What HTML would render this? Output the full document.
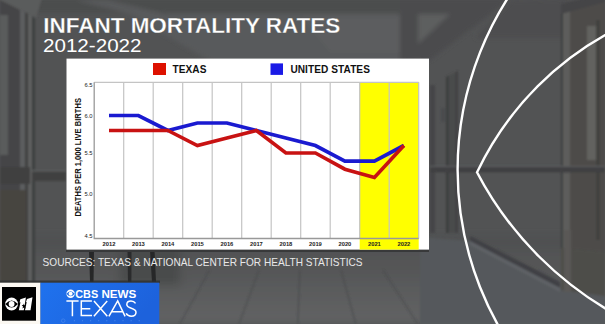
<!DOCTYPE html>
<html><head><meta charset="utf-8">
<style>
html,body{margin:0;padding:0;}
body{width:605px;height:324px;overflow:hidden;position:relative;background:#505254;font-family:"Liberation Sans",sans-serif;}
.abs{position:absolute;}
#bg{position:absolute;left:0;top:0;width:605px;height:324px;overflow:hidden;}
</style></head>
<body>
<div id="bg">
 <svg width="605" height="324" style="position:absolute;left:0;top:0">
  <defs>
   <filter id="b1" x="-20%" y="-20%" width="140%" height="140%"><feGaussianBlur stdDeviation="1"/></filter>
   <filter id="b2" x="-20%" y="-20%" width="140%" height="140%"><feGaussianBlur stdDeviation="2"/></filter>
   <filter id="b3" x="-20%" y="-20%" width="140%" height="140%"><feGaussianBlur stdDeviation="5"/></filter>
   <linearGradient id="floor" x1="0" y1="0" x2="0" y2="1">
    <stop offset="0" stop-color="#4e4f50"/>
    <stop offset="1" stop-color="#626364"/>
   </linearGradient>
  </defs>
  <rect x="0" y="0" width="605" height="324" fill="#525354"/>
  <g filter="url(#b3)">
   <rect x="0" y="238" width="605" height="86" fill="url(#floor)"/>
   <rect x="120" y="245" width="60" height="40" fill="#4a4b4c"/>
  </g>
  <g filter="url(#b2)">
   <!-- ceiling -->
   <polygon points="36,-2 470,-2 455,13 36,13" fill="#4c4d4e"/>
   <polygon points="130,14 449,14 400,64 215,64" fill="#585a5b"/>
   <polygon points="300,16 447,16 405,52 330,52" fill="#5c5d5e"/>
   <polygon points="400,-2 512,-2 430,60 400,62" fill="#4b4c4d"/>
   <polygon points="418,14 450,14 418,44" fill="#5d5e5f"/>
   
   <polygon points="512,0 605,-2 605,38 475,38" fill="#4d4e4f"/>
   <polygon points="75,0 108,0 255,36 240,42" fill="#595a5b"/>
  </g>
  <g filter="url(#b1)">
   <!-- left door -->
   <polygon points="0,-2 42,-2 36,18 0,0" fill="#5a5b5c"/>
   <polygon points="0,0 20,10 20,290 0,290" fill="#454546"/>
   <rect x="0" y="15" width="8" height="140" fill="#5a5b5c"/>
   <polygon points="20,10 25,12 25,290 20,290" fill="#5c5d5e"/>
   <polygon points="25,12 28,14 28,290 25,290" fill="#3f4041"/>
   <polygon points="28,14 32,16 32,290 28,290" fill="#5d5e5f"/>
   <polygon points="32,16 35,18 35,290 32,290" fill="#3e3f40"/>
   <rect x="0" y="190" width="26" height="100" fill="#47453f"/>
   <rect x="0" y="167" width="30" height="17" fill="#3f4041"/>
   <rect x="32" y="170" width="34" height="11" fill="#3f4041"/>
   <rect x="32" y="170" width="34" height="1.5" fill="#5d5e5f"/>
   <!-- right doors -->
   <polygon points="561,12 605,0 605,252 561,248" fill="#4d4c49"/>
   <polygon points="561,12 563,11 563,248 561,248" fill="#3e3f40"/>
   <polygon points="563,11 570,9 570,248 563,248" fill="#5d5d5c"/>
   <polygon points="561,4 605,-6 605,2 561,14" fill="#454546"/>
   <rect x="587" y="26" width="9" height="134" fill="#62625f"/>
   <rect x="596" y="20" width="4" height="220" fill="#424240"/>
   <!-- small left doors -->
   <rect x="430" y="85" width="5" height="148" fill="#444546"/>
   <polygon points="446,77 458,71 458,233 446,233" fill="#4a4b4c"/>
   <polygon points="446,77 448.5,76 448.5,233 446,233" fill="#3b3c3d"/>
   <polygon points="455.5,72 458,71 458,233 455.5,233" fill="#404142"/>
   <rect x="441" y="108" width="4" height="14" fill="#4a4b4d"/>
   <!-- handrail -->
   <rect x="430" y="167" width="175" height="5.5" fill="#404142"/>
   <rect x="430" y="165.8" width="175" height="1.2" fill="#5c5d5e"/>
   <!-- baseboard -->
   <polygon points="420,237 470,241 560,288 605,296 605,324 420,324" fill="#55585c"/>
   <polygon points="470,236 560,282 560,288 470,241" fill="#3f4144"/>
   <polygon points="470,241 560,288 560,292 470,245" fill="#5f6266"/>
   <polygon points="561,248 605,252 605,296 561,290" fill="#4e4d4a"/>
   <rect x="564" y="230" width="7" height="62" fill="#5a5956"/>
  </g>
  <g>
   <polygon points="89,250 94,250 93.5,282 90,282" fill="#262728"/>
   <polygon points="127.5,250 131.5,250 131.4,282 128,282" fill="#2a2b2c"/>
   <polygon points="150,250 154.5,250 156,282 152,282" fill="#262728"/>
   <rect x="66" y="249.5" width="363" height="2.5" fill="#38393a"/>
  </g>
  <g stroke="#46484a" stroke-width="1" filter="url(#b1)">
   <line x1="179.8" y1="324" x2="209.6" y2="270"/>
   <line x1="239" y1="324" x2="259" y2="270"/>
   <line x1="297.8" y1="324" x2="299.8" y2="270"/>
   <line x1="355.8" y1="324" x2="341" y2="270"/>
   <line x1="417.8" y1="324" x2="383" y2="270"/>
  </g>
 </svg>
</div>

<svg class="abs" style="left:0;top:0" width="605" height="324">
 <text x="43.3" y="32.6" font-family="Liberation Sans" font-weight="bold" font-size="22.5" fill="#fff" stroke="#575959" stroke-width="0.3" textLength="297" lengthAdjust="spacing">INFANT MORTALITY RATES</text>
 <text x="43" y="52.3" font-family="Liberation Sans" font-size="19.2" fill="#fff" textLength="98.5" lengthAdjust="spacingAndGlyphs">2012-2022</text>
 <text x="42.6" y="265.8" font-family="Liberation Sans" font-size="10.2" fill="#e8e8e8" textLength="320" lengthAdjust="spacingAndGlyphs">SOURCES: TEXAS &amp; NATIONAL CENTER FOR HEALTH STATISTICS</text>
</svg>

<svg class="abs" style="left:0;top:0" width="605" height="324">
 <rect x="66.5" y="58.6" width="362.5" height="191" fill="#fff"/>
 <!-- yellow -->
 <rect x="359.7" y="82.3" width="59" height="167.3" fill="#ffff00"/>
 <g stroke="#c4c4c4" stroke-width="1.2">
  <line x1="123.7" y1="82.3" x2="123.7" y2="238.5"/>
  <line x1="153.2" y1="82.3" x2="153.2" y2="238.5"/>
  <line x1="182.7" y1="82.3" x2="182.7" y2="238.5"/>
  <line x1="212.2" y1="82.3" x2="212.2" y2="238.5"/>
  <line x1="241.7" y1="82.3" x2="241.7" y2="238.5"/>
  <line x1="271.2" y1="82.3" x2="271.2" y2="238.5"/>
  <line x1="300.7" y1="82.3" x2="300.7" y2="238.5"/>
  <line x1="330.2" y1="82.3" x2="330.2" y2="238.5"/>
  <line x1="359.7" y1="82.3" x2="359.7" y2="238.5"/>
  <line x1="389.2" y1="82.3" x2="389.2" y2="238.5"/>
  <line x1="418.7" y1="82.3" x2="418.7" y2="238.5"/>
  <line x1="94.2" y1="82.3" x2="418.7" y2="82.3"/>
 </g>
 <path d="M94.2 82.3 V238.5 H418.7" fill="none" stroke="#999" stroke-width="1.3"/>
 <polyline fill="none" stroke="#1a1ad0" stroke-width="3.7" stroke-linejoin="miter" points="109.0,115.5 138.4,115.5 167.9,130.5 197.4,123.0 226.9,123.0 256.4,130.5 285.9,138.0 315.4,145.5 344.9,161.1 374.4,161.1 403.9,145.5"/>
 <polyline fill="none" stroke="#c81212" stroke-width="3.6" stroke-linejoin="miter" points="109.0,130.5 138.4,130.5 167.9,130.5 197.4,145.5 226.9,138.0 256.4,130.5 285.9,153.0 315.4,153.0 344.9,169.2 374.4,177.4 403.9,145.5"/>
 <!-- legend -->
 <rect x="153" y="63" width="13" height="12" fill="#dd1100"/>
 <rect x="270.5" y="63.4" width="12.5" height="11.5" fill="#1a1ae6"/>
 <g font-family="Liberation Sans" font-weight="bold" font-size="9.6" fill="#111">
  <text x="172.6" y="72.8" font-size="10.1" textLength="33.8" lengthAdjust="spacing">TEXAS</text>
  <text x="290.4" y="72.6" font-size="10.1" textLength="79.5" lengthAdjust="spacing">UNITED STATES</text>
 </g>
 <g font-family="Liberation Sans" font-size="5.8" fill="#222" text-anchor="end">
  <text x="92.5" y="87.4">6.5</text>
  <text x="92.5" y="117.6">6.0</text>
  <text x="92.5" y="155.1">5.5</text>
  <text x="92.5" y="195.7">5.0</text>
  <text x="92.5" y="237.5">4.5</text>
 </g>
 <text transform="translate(81.1,157.3) rotate(-90)" text-anchor="middle" font-family="Liberation Sans" font-weight="bold" font-size="9.1" fill="#111" textLength="118.5" lengthAdjust="spacingAndGlyphs">DEATHS PER 1,000 LIVE BIRTHS</text>
 <g font-family="Liberation Sans" font-size="5.8" fill="#222" text-anchor="middle" font-weight="bold">
  <text x="109.0" y="245.8">2012</text>
  <text x="138.4" y="245.8">2013</text>
  <text x="167.9" y="245.8">2014</text>
  <text x="197.4" y="245.8">2015</text>
  <text x="226.9" y="245.8">2016</text>
  <text x="256.4" y="245.8">2017</text>
  <text x="285.9" y="245.8">2018</text>
  <text x="315.4" y="245.8">2019</text>
  <text x="344.9" y="245.8">2020</text>
  <text x="374.4" y="245.8">2021</text>
  <text x="403.9" y="245.8">2022</text>
 </g>
</svg>


<!-- arcs -->
<svg class="abs" style="left:0;top:0" width="605" height="324">
 <defs>
  <clipPath id="cu"><rect x="0" y="0" width="605" height="172"/></clipPath>
  <clipPath id="cl"><rect x="0" y="172" width="605" height="152"/></clipPath>
 </defs>
 <g fill="none" stroke="#fff" stroke-width="2.4">
  <circle cx="775.9" cy="169.8" r="318.3"/>
  <circle cx="756.2" cy="304.6" r="308.9" clip-path="url(#cu)"/>
  <circle cx="784" cy="11.5" r="346.5" clip-path="url(#cl)"/>
 </g>
</svg>

<!-- logo bar -->
<svg class="abs" style="left:0;top:0" width="605" height="324">
 <defs>
  <linearGradient id="blue" x1="0" y1="0" x2="1" y2="0.3">
   <stop offset="0" stop-color="#1f72ee"/>
   <stop offset="1" stop-color="#1d62dc"/>
  </linearGradient>
 </defs>
 <rect x="0" y="280.5" width="160" height="2.5" fill="#2e2f30" opacity="0.8"/>
 <rect x="0" y="282.7" width="40.5" height="41.3" fill="#fbf8f2"/>
 <rect x="2" y="287" width="34" height="33.7" fill="#000"/>
 <rect x="40.5" y="282.7" width="118.8" height="41.3" fill="url(#blue)"/>
 <!-- CBS11 eye -->
 <circle cx="11.6" cy="304" r="6.4" fill="#fff"/>
 <path d="M5.2 304 Q11.6 296.8 18 304 Q11.6 311.2 5.2 304 Z" fill="#000"/>
 <circle cx="11.6" cy="304" r="2.9" fill="#fff"/>
 <!-- 11 -->
 <path d="M20.3 299.2 L25.9 297.4 L23.8 310.2 L18.8 310.2 L20.5 302.2 L19.6 302.5 Z" fill="#fff"/>
 <path d="M27 299 L32.5 297.2 L30.5 310.2 L25 310.2 L26.7 302 L25.9 302.3 Z" fill="#fff"/>
 <path d="M23.3 303.5 L24.4 305.3 L26.3 305.1 L25 306.5 L25.8 308.5 L24.1 307.4 L22.4 308.4 L23 306.4 L21.7 305.1 L23.4 305.1 Z" fill="#000"/>
 <!-- CBS NEWS eye -->
 <circle cx="70.6" cy="293.8" r="4.2" fill="#fff"/>
 <path d="M66.4 293.8 Q70.6 288.8 74.8 293.8 Q70.6 298.8 66.4 293.8 Z" fill="#2470e2"/>
 <circle cx="70.6" cy="293.8" r="2" fill="#fff"/>
 <text x="75.2" y="297.8" font-family="Liberation Sans" font-weight="bold" font-size="11.4" fill="#fff" textLength="23" lengthAdjust="spacingAndGlyphs">CBS</text>
 <text x="101.4" y="297.8" font-family="Liberation Sans" font-weight="bold" font-size="11.4" fill="#fff" textLength="35" lengthAdjust="spacingAndGlyphs">NEWS</text>
 <g fill="#5d9af5" opacity="0.6"><circle cx="74.4" cy="320.7" r="0.6"/><circle cx="82.5" cy="320.7" r="0.6"/><circle cx="90.6" cy="320.7" r="0.6"/><circle cx="98.7" cy="320.7" r="0.6"/><circle cx="106.8" cy="320.7" r="0.6"/><circle cx="114.9" cy="320.7" r="0.6"/><circle cx="123.0" cy="320.7" r="0.6"/><circle cx="131.1" cy="320.7" r="0.6"/><circle cx="139.2" cy="320.7" r="0.6"/></g>
 <circle cx="63.2" cy="320.7" r="1.8" fill="none" stroke="#4b8af0" stroke-width="0.6"/>
 <!-- TEXAS thin -->
 <g fill="none" stroke="#fff" stroke-width="1.5" stroke-linejoin="miter">
  <path d="M66.4 301.1 H78.6 M72.4 301.1 V316.3"/>
  <path d="M91.9 301.1 H81.3 V315.6 H92 M81.3 308.8 H90.3"/>
  <path d="M94 301 L107.3 316.3 M107.2 301 L93.9 316.3"/>
  <path d="M108.9 316.4 L117.7 300.9 L125.1 316.4 M111.6 311.8 H122.6"/>
  <path d="M135.6 303.4 C134.4 301.6 132.9 300.9 131 300.9 C128.3 300.9 126.8 302.4 126.8 304.5 C126.8 309.2 136 307.2 136 312.2 C136 314.6 134.2 316.2 131.2 316.2 C128.9 316.2 127.2 315.2 126.1 313.4"/>
 </g>
</svg>
</body></html>
